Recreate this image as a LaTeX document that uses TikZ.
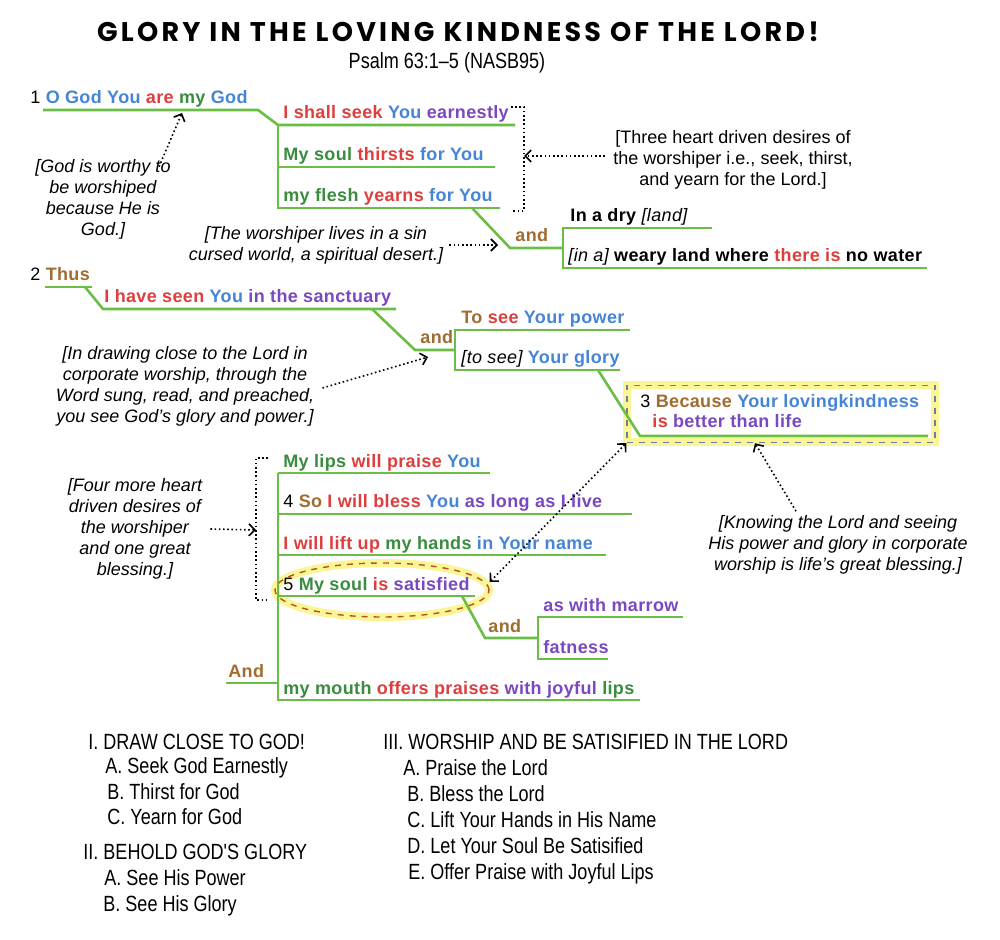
\documentclass[tikz,border=0pt]{standalone}
\usepackage{fontspec}
\setmainfont{Liberation Sans}
\newfontfamily\outfont[FakeStretch=0.82]{Liberation Sans}
\newfontfamily\titlefont[LetterSpace=12]{Poppins}
\newfontfamily\clfont[LetterSpace=2]{Liberation Sans}
\usetikzlibrary{positioning,arrows.meta,shapes.geometric}
\definecolor{lnGreen}{RGB}{106,190,69}
\definecolor{txGreen}{RGB}{58,140,62}
\definecolor{txRed}{RGB}{222,62,62}
\definecolor{txBlue}{RGB}{70,133,214}
\definecolor{txPurple}{RGB}{122,72,192}
\definecolor{txBrown}{RGB}{160,108,48}
\definecolor{hlYellow}{RGB}{250,246,150}
\definecolor{boxLine}{RGB}{110,125,160}
\definecolor{ovLine}{RGB}{184,80,40}
\newcommand{\Gr}[1]{\textcolor{txGreen}{#1}}
\newcommand{\Rd}[1]{\textcolor{txRed}{#1}}
\newcommand{\Bl}[1]{\textcolor{txBlue}{#1}}
\newcommand{\Pu}[1]{\textcolor{txPurple}{#1}}
\newcommand{\Bn}[1]{\textcolor{txBrown}{#1}}
\newcommand{\insrt}[1]{{\mdseries\itshape #1}}
\newcommand{\vnum}[1]{{\mdseries #1}}

\begin{document}
\begin{tikzpicture}[x=0.5pt,y=-0.5pt,
  cl/.style={font=\clfont\fontsize{9}{10}\selectfont\bfseries,anchor=base west,inner sep=0pt},
  note/.style={font=\fontsize{9}{10.5}\selectfont\itshape,align=center,inner sep=0pt},
  outl/.style={font=\outfont\fontsize{11}{13}\selectfont,anchor=base west,inner sep=0pt},
  ul/.style={draw=lnGreen,line width=1.3pt},
  dots/.style={draw=black,line width=0.8pt,dash pattern=on 0.8pt off 1.3pt},
  arrdots/.style={dots,-{Straight Barb[length=3pt,width=6pt]}},
  box3/.style={draw=boxLine,dashed,line width=0.7pt,minimum width=154pt,minimum height=28.5pt,
    preaction={draw=hlYellow,solid,line width=4pt}},
  oval5/.style={ellipse,draw=ovLine,dashed,line width=0.7pt,minimum width=107pt,minimum height=27pt,
    preaction={draw=hlYellow,solid,line width=4pt}}]
\useasboundingbox[fill=white] (0,0) rectangle (1000,940);

% title
\node[font=\titlefont\fontsize{13.5}{15}\selectfont\bfseries] (title) at (458,32)
  {GLORY IN THE LOVING KINDNESS OF THE LORD!};
\node[font=\outfont\fontsize{11}{13}\selectfont] (sub) at (447,63) {Psalm 63:1–5 (NASB95)};

% highlights
\node[box3] (b3) at (781,414) {};
\node[oval5] (el5) at (382,590) {};

% verse 1
\coordinate (s1) at (43,110);
\coordinate (f1) at (278,125);
\coordinate (d1) at (472,208);
\coordinate (and1) at (510,248);
\coordinate (f2) at (563,248);
\draw[ul] (s1) -- ++(215,0) -- (f1) -- ++(237,0);
\draw[ul] (f1) ++(0,42) -- ++(217,0);
\draw[ul] (f1) -- ++(0,83) -- ++(222,0);
\draw[ul] (d1) -- (and1) -- (f2);
\draw[ul] (f2) ++(149,-20) -- ++(-149,0) -- ++(0,40) -- ++(364,0);

\node[cl] (v1) at (30,104) {\vnum{1} \Bl{O God You} \Rd{are} \Gr{my} \Bl{God}};
\node[cl] (seek) at (283,119) {\Rd{I shall seek} \Bl{You} \Pu{earnestly}};
\node[cl] (thirst) at (283,161) {\Gr{My soul} \Rd{thirsts} \Bl{for You}};
\node[cl] (yearn) at (283,202) {\Gr{my flesh} \Rd{yearns} \Bl{for You}};
\node[cl] (a1) at (515,242) {\Bn{and}};
\node[cl] (dry) at (570,222) {In a dry \insrt{[land]}};
\node[cl] (weary) at (568,262) {\insrt{[in a]} weary land where \Rd{there is} no water};

% verse 2
\coordinate (s2) at (45,287);
\coordinate (f3) at (103,309);
\coordinate (d2) at (372,309);
\coordinate (and2) at (415,350);
\coordinate (f4) at (455,350);
\coordinate (d3) at (598,370);
\coordinate (f5) at (640,436);
\draw[ul] (s2) -- ++(47,0);
\draw[ul] (s2) ++(40,0) -- (f3) -- ++(293,0);
\draw[ul] (d2) -- (and2) -- (f4);
\draw[ul] (f4) ++(175,-20) -- ++(-175,0) -- ++(0,40) -- ++(165,0);
\draw[ul] (d3) -- (f5) -- ++(288,0);

\node[cl] (v2) at (30,281) {\vnum{2} \Bn{Thus}};
\node[cl] (seen) at (104,303) {\Rd{I have seen} \Bl{You} \Pu{in the sanctuary}};
\node[cl] (a2) at (420,344) {\Bn{and}};
\node[cl] (power) at (461,324) {\Bn{To} \Rd{see} \Bl{Your power}};
\node[cl] (glory) at (461,364) {\insrt{[to see]} \Bl{Your glory}};
\node[cl] (v3) at (640,408) {\vnum{3} \Bn{Because} \Bl{Your lovingkindness}};
\node[cl] (life) at (652,428) {\Rd{is} \Pu{better than life}};

% verse 3-5
\coordinate (f6) at (278,473);
\coordinate (s3) at (226,683);
\coordinate (d4) at (462,596);
\coordinate (and3) at (485,638);
\coordinate (f7) at (538,638);
\draw[ul] (f6) -- ++(212,0);
\draw[ul] (f6) ++(0,41) -- ++(354,0);
\draw[ul] (f6) ++(0,82) -- ++(328,0);
\draw[ul] (f6) ++(0,123) -- ++(197,0);
\draw[ul] (f6) -- ++(0,227) -- ++(362,0);
\draw[ul] (s3) -- (s3 -| f6);
\draw[ul] (d4) -- (and3) -- (f7);
\draw[ul] (f7) ++(145,-21) -- ++(-145,0) -- ++(0,42) -- ++(70,0);

\node[cl] (lips) at (283,467) {\Gr{My lips} \Rd{will praise} \Bl{You}};
\node[cl] (v4) at (283,508) {\vnum{4} \Bn{So} \Rd{I will bless} \Bl{You} \Pu{as long as I live}};
\node[cl] (lift) at (283,549) {\Rd{I will lift up} \Gr{my hands} \Bl{in Your name}};
\node[cl] (v5) at (283,590) {\vnum{5} \Gr{My soul} \Rd{is} \Pu{satisfied}};
\node[cl] (a3) at (488,632) {\Bn{and}};
\node[cl] (marrow) at (543,611) {\Pu{as with marrow}};
\node[cl] (fat) at (543,653) {\Pu{fatness}};
\node[cl] (And) at (228,677) {\Bn{And}};
\node[cl] (mouth) at (283,694) {\Gr{my mouth} \Rd{offers praises} \Pu{with joyful} \Gr{lips}};

% notes
\node[note] (nGod) at (103,199) {[God is worthy to\\be worshiped\\because He is\\God.]};
\node[note,font=\fontsize{9}{10.5}\selectfont] (nThree) at (733,160)
  {[Three heart driven desires of\\the worshiper i.e., seek, thirst,\\and yearn for the Lord.]};
\node[note] (nSin) at (316,245) {[The worshiper lives in a sin\\cursed world, a spiritual desert.]};
\node[note] (nDraw) at (185,386) {[In drawing close to the Lord in\\corporate worship, through the\\Word sung, read, and preached,\\you see God's glory and power.]};
\node[note] (nFour) at (135,529) {[Four more heart\\driven desires of\\the worshiper\\and one great\\blessing.]};
\node[note] (nKnow) at (838,545) {[Knowing the Lord and seeing\\His power and glory in corporate\\worship is life's great blessing.]};

% dotted brackets and pointers
\coordinate (br1) at (524,107);
\coordinate (br3) at (256,458);
\coordinate (t1) at (182,113);
\coordinate (t2) at (498,245);
\coordinate (t3) at (428,357);
\draw[dots] (br1) ++(-13,0) -- (br1) -- ++(0,104) -- ++(-11,0);
\draw[dots] (br3) ++(12,0) -- (br3) -- ++(0,142) -- ++(12,0);
\draw[arrdots] (nThree.west) ++(-8,-4) -- (br1 |- 0,156);
\draw[arrdots] ([xshift=28pt,yshift=-4pt]nGod.north) -- (t1);
\draw[arrdots] ([xshift=3pt]nSin.east) -- (t2);
\draw[arrdots] ([xshift=4pt,yshift=-1pt]nDraw.east) -- (t3);
\draw[arrdots] (nFour.east) ++(8,0) -- (br3 |- 0,530);
\draw[arrdots] ([xshift=-21pt,yshift=2pt]nKnow.north) -- ([xshift=-13pt]b3.south);
\draw[dots,{Straight Barb[length=3pt,width=6pt]}-{Straight Barb[length=3pt,width=6pt]}]
  ([yshift=4pt]el5.east) -- (b3.south west);

% outline
\node[outl] (o1) at (88,749) {I. DRAW CLOSE TO GOD!};
\node[outl] (o1a) at (105,773) {A. Seek God Earnestly};
\node[outl] (o1b) at (107,799) {B. Thirst for God};
\node[outl] (o1c) at (107,824) {C. Yearn for God};
\node[outl] (o2) at (83,859) {II. BEHOLD GOD'S GLORY};
\node[outl] (o2a) at (104,885) {A. See His Power};
\node[outl] (o2b) at (103,911) {B. See His Glory};
\node[outl] (o3) at (383,749) {III. WORSHIP AND BE SATISIFIED IN THE LORD};
\node[outl] (o3a) at (403,775) {A. Praise the Lord};
\node[outl] (o3b) at (407,801) {B. Bless the Lord};
\node[outl] (o3c) at (407,827) {C. Lift Your Hands in His Name};
\node[outl] (o3d) at (407,853) {D. Let Your Soul Be Satisified};
\node[outl] (o3e) at (408,879) {E. Offer Praise with Joyful Lips};
\end{tikzpicture}
\end{document}
